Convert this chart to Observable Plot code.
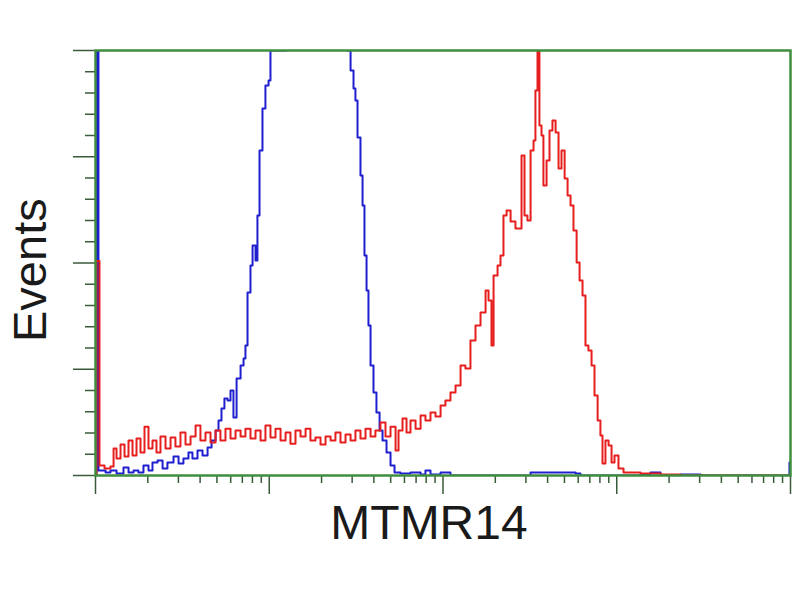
<!DOCTYPE html>
<html>
<head>
<meta charset="utf-8">
<script src="https://cdn.jsdelivr.net/npm/d3@7"></script>
<script src="https://cdn.jsdelivr.net/npm/@observablehq/plot@0.6"></script>
<style>
  html, body { margin: 0; padding: 0; background: #fff; }
  #chart { width: 800px; height: 600px; }
</style>
</head>
<body>
<div id="chart"></div>
<script>
// x values: log10(MTMR14 fluorescence intensity), 4 decades; y: event counts
const redX = [0,0.006,0.017,0.023,0.052,0.086,0.104,0.121,0.144,0.167,0.19,0.213,0.236,0.259,0.282,0.305,0.328,0.351,0.374,0.403,0.432,0.46,0.489,0.518,0.547,0.576,0.604,0.633,0.662,0.691,0.719,0.748,0.777,0.806,0.835,0.863,0.892,0.921,0.95,0.978,1.007,1.036,1.065,1.094,1.122,1.151,1.18,1.209,1.237,1.266,1.295,1.324,1.353,1.381,1.41,1.439,1.468,1.496,1.525,1.554,1.583,1.611,1.64,1.669,1.698,1.727,1.744,1.767,1.79,1.813,1.842,1.871,1.899,1.928,1.957,1.986,2.014,2.043,2.072,2.101,2.129,2.158,2.187,2.216,2.245,2.262,2.279,2.291,2.314,2.331,2.348,2.366,2.389,2.417,2.435,2.452,2.469,2.486,2.504,2.521,2.532,2.544,2.555,2.567,2.578,2.596,2.613,2.63,2.648,2.665,2.682,2.7,2.717,2.734,2.751,2.769,2.786,2.803,2.82,2.837,2.855,2.872,2.89,2.906,2.918,2.935,2.953,2.97,2.987,3.01,3.039,3.137,3.252,3.367,4];
const redY = [0,101,101,4.7,3.3,4.2,12.7,8,14.6,8.9,16.5,9.4,17.4,10.8,23,12.7,16.5,10.8,18.4,12.7,17.9,13.6,20.2,14.6,18.4,23.5,16.5,20.2,15.5,21.2,16.5,22,17.4,21.2,18.4,22,17.4,21.2,16.5,23.5,17.9,22,16.5,20.2,15,21.2,18.4,22,16.5,17.9,14.6,18.4,16.5,20.2,15.5,19.3,16.5,21.2,17.4,22,18.4,21.2,24.9,18.4,23,11.8,21.2,26.8,20.2,25.9,22,28.2,25.9,29.6,27.8,32.9,35.3,39.1,42.4,51.8,50.4,63.5,70.6,76.7,87.1,82.4,61.2,94.1,98.8,103.5,122.4,124.7,119.5,116.2,116.2,150.6,122.4,120,152.9,157.6,181.2,202,164.7,160,136.5,148.2,162.4,167.1,161.4,144.5,152.9,139.8,131.8,127.1,115.3,100.2,91.8,84.7,61.2,58.8,51.8,37.6,25.9,18.8,5.6,16.5,14.1,6.1,9.4,3.3,1.4,0.9,0.5,0,0];

const blueX = [0,0.006,0.017,0.058,0.086,0.121,0.161,0.19,0.219,0.247,0.276,0.305,0.328,0.357,0.386,0.414,0.449,0.478,0.506,0.535,0.558,0.587,0.616,0.645,0.668,0.691,0.708,0.725,0.742,0.76,0.777,0.794,0.812,0.835,0.852,0.863,0.875,0.892,0.904,0.921,0.932,0.944,0.961,0.978,0.996,1.007,1.1,1.3,1.445,1.468,1.485,1.496,1.508,1.525,1.537,1.548,1.56,1.571,1.583,1.6,1.617,1.635,1.652,1.675,1.698,1.721,1.755,1.813,1.871,1.899,1.928,1.986,2.043,2.331,2.504,2.619,2.763,2.791,3.137,3.194,3.252,3.367,3.482,3.971,3.994,4];
const blueY = [0,250,2.4,1.4,2.4,0.9,3.8,1.4,2.4,1.4,4.7,2.4,6.1,7.1,3.3,6.1,8.9,5.6,8,10.8,8,11.8,9.4,13.2,16.5,21.2,25.9,31.5,36.2,35.3,40,27.3,45.6,51.8,55.1,61.2,86.1,98.8,108.2,101.2,122.4,152.9,172.7,183.5,185.9,200,260,300,200,190.6,182.1,176.5,159.1,141.2,127.1,103.5,87.1,70.6,51.8,39.1,29.6,21.2,16.5,10.8,4.7,1.4,0.9,1.4,0.5,2.4,0.5,1.4,0,0,1.4,1.4,0.9,0,0.5,1.4,0,0.5,0,0,6.1,6.1];

const xMajorTicks = [0, 1, 2, 3, 4];
const xMinorMultipliers = [2, 3, 4, 5, 6, 7, 8, 9];
const yMajorTicks = [0, 50, 100, 150, 200];
const yMinorTicks = [10, 20, 30, 40, 60, 70, 80, 90, 110, 120, 130, 140, 160, 170, 180, 190];
const xLabel = "MTMR14";
const yLabel = "Events";

const red = redX.map((x, i) => ({x, y: redY[i]}));
const blue = blueX.map((x, i) => ({x, y: blueY[i]}));
const xMinorTicks = [];
for (const n of [0, 1, 2, 3]) for (const k of xMinorMultipliers) xMinorTicks.push(n + Math.log10(k));

const frameColor = "#3f8f3f";
const tickColor = "#3a5a3a";
const font = "'Liberation Sans', Arial, Helvetica, sans-serif";

const chart = Plot.plot({
  width: 800,
  height: 600,
  marginLeft: 95,
  marginRight: 10,
  marginTop: 50,
  marginBottom: 125,
  style: {fontFamily: font, background: "#fff"},
  x: {type: "linear", domain: [0, 4]},
  y: {type: "linear", domain: [0, 200]},
  marks: [
    Plot.line(blue, {x: "x", y: "y", stroke: "#1f1fcf", strokeWidth: 2, curve: "step-after", clip: true}),
    Plot.line(red, {x: "x", y: "y", stroke: "#e61e1e", strokeWidth: 2, curve: "step-after", clip: true}),
    Plot.axisX(xMajorTicks, {anchor: "bottom", tickSize: 19, tickFormat: () => "", label: null, stroke: tickColor, strokeWidth: 1.5}),
    Plot.axisX(xMinorTicks, {anchor: "bottom", tickSize: 8, tickFormat: () => "", label: null, stroke: tickColor, strokeWidth: 1.5}),
    Plot.axisY(yMajorTicks, {anchor: "left", tickSize: 22, tickFormat: () => "", label: null, stroke: tickColor, strokeWidth: 1.5}),
    Plot.axisY(yMinorTicks, {anchor: "left", tickSize: 10, tickFormat: () => "", label: null, stroke: tickColor, strokeWidth: 1.5}),
    Plot.frame({stroke: frameColor, strokeWidth: 2.5}),
    Plot.text([xLabel], {frameAnchor: "bottom", dx: -14, dy: 48, fontSize: 48, fill: "#1a1a1a", lineAnchor: "middle", fontFamily: font}),
    Plot.text([yLabel], {frameAnchor: "left", rotate: -90, dx: -65, dy: 79, fontSize: 47, fill: "#1a1a1a", lineAnchor: "middle", fontFamily: font})
  ]
});
document.getElementById("chart").appendChild(chart);
</script>
</body>
</html>
